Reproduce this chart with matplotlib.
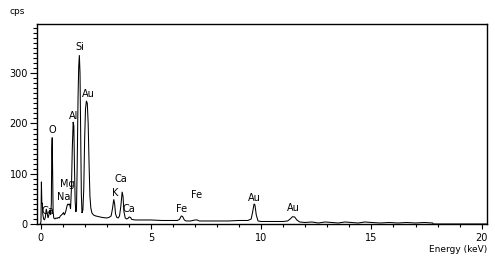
import matplotlib
matplotlib.use("Agg")
import matplotlib.pyplot as plt
from matplotlib.ticker import MultipleLocator

# ---- data (energy in keV, counts in cps) ----
energy = [-0.02, 0.00, 0.02, 0.04, 0.06, 0.08, 0.10, 0.14, 0.18, 0.22, 0.26,
          0.30, 0.34, 0.38, 0.42, 0.46, 0.49, 0.51, 0.53, 0.55, 0.57, 0.60,
          0.65, 0.70, 0.75, 0.80, 0.85, 0.90, 0.95, 1.00, 1.04, 1.08, 1.12,
          1.16, 1.20, 1.24, 1.28, 1.32, 1.36, 1.40, 1.44, 1.48, 1.51, 1.54,
          1.57, 1.60, 1.63, 1.66, 1.70, 1.73, 1.76, 1.79, 1.82, 1.85, 1.88,
          1.92, 1.96, 2.00, 2.04, 2.08, 2.12, 2.16, 2.20, 2.24, 2.28, 2.33,
          2.40, 2.50, 2.60, 2.80, 3.00, 3.10, 3.20, 3.26, 3.32, 3.36, 3.40,
          3.46, 3.52, 3.58, 3.64, 3.70, 3.74, 3.78, 3.84, 3.90, 3.96, 4.02,
          4.08, 4.14, 4.30, 4.60, 5.00, 5.50, 6.00, 6.20, 6.30, 6.38, 6.44,
          6.52, 6.60, 6.80, 7.00, 7.10, 7.20, 7.50, 8.00, 8.50, 9.00, 9.40,
          9.55, 9.62, 9.68, 9.72, 9.78, 9.86, 10.00, 10.50, 11.00, 11.20,
          11.32, 11.42, 11.52, 11.62, 11.75, 12.00, 12.30, 12.60, 12.90,
          13.20, 13.50, 13.80, 14.10, 14.40, 14.70, 15.00, 15.40, 15.80,
          16.20, 16.60, 17.00, 17.40, 17.78, 17.80, 20.30]
cps = [0, 0, 5, 84, 40, 42, 20, 10, 8, 14, 30,
       22, 12, 18, 28, 18, 40, 150, 172, 90, 25, 12,
       10, 12, 11, 13, 12, 16, 18, 20, 23, 18, 22,
       28, 36, 40, 38, 40, 30, 70, 150, 203, 195, 110,
       45, 24, 30, 110, 250, 312, 336, 300, 170, 60, 22,
       28, 70, 170, 230, 245, 240, 200, 120, 55, 32, 22,
       18, 16, 15, 13, 12, 13, 16, 30, 49, 40, 20,
       13, 12, 16, 35, 64, 55, 25, 12, 10, 11, 14,
       13, 9, 8, 8, 8, 7, 7, 7, 9, 16, 15,
       8, 6, 6, 8, 8, 6, 6, 6, 6, 7, 7,
       10, 25, 40, 38, 18, 6, 5, 5, 5, 6,
       10, 14.5, 14, 8, 4, 3, 4, 2, 4,
       3, 2, 4, 3, 2, 4, 3, 2, 3,
       2, 3, 2, 3, 2, 0, 0]

# peak labels: (text, energy, cps)
peak_names = ["Si", "Au", "Al", "O", "Mg", "Na", "Ca", "K", "Ca", "Ca",
              "Fe", "Fe", "Au", "Au"]
peak_e = [1.76, 2.16, 1.48, 0.53, 1.21, 1.03, 0.32, 3.39, 3.66, 4.02,
          6.39, 7.07, 9.70, 11.47]
peak_y = [352, 258, 215, 187, 80, 54, 26, 62, 89, 30,
          30, 58, 52, 32]

x_major = [0, 5, 10, 15, 20]
y_major = [0, 100, 200, 300]

plt.rcParams['font.family'] = ['DejaVu Sans']
fs = 7

fig = plt.figure(figsize=(4.95, 2.62), dpi=100)
ax = fig.add_axes([37 / 495, 1 - 224 / 262, 450 / 495, 200 / 262])

ax.plot(energy, cps, color='black', lw=0.75, solid_joinstyle='miter')

ax.set_xlim(-0.16, 20.24)
ax.set_ylim(0, 398)
ax.set_xticks(x_major)
ax.set_yticks(y_major)
ax.xaxis.set_minor_locator(MultipleLocator(1))
ax.yaxis.set_minor_locator(MultipleLocator(10))
ax.tick_params(axis='y', which='major', direction='out', length=5, width=0.8,
               pad=1.5, labelsize=fs)
ax.tick_params(axis='y', which='minor', direction='out', length=2.6, width=0.8)
ax.tick_params(axis='x', which='major', direction='out', length=3.6, width=0.8,
               pad=3.2, labelsize=fs)
ax.tick_params(axis='x', which='minor', direction='out', length=2.2, width=0.8)
for s in ax.spines.values():
    s.set_linewidth(1.0)

for name, e, y in zip(peak_names, peak_e, peak_y):
    ax.text(e, y, name, fontsize=fs, ha='center', va='center')

fig.text(17 / 495, 1 - 12 / 262, "cps", fontsize=fs - 0.5, ha='center', va='center')
fig.text(487 / 495, 1 - 250 / 262, "Energy (keV)", fontsize=fs - 0.5,
         ha='right', va='center')

fig.savefig("out.png", dpi=100)
